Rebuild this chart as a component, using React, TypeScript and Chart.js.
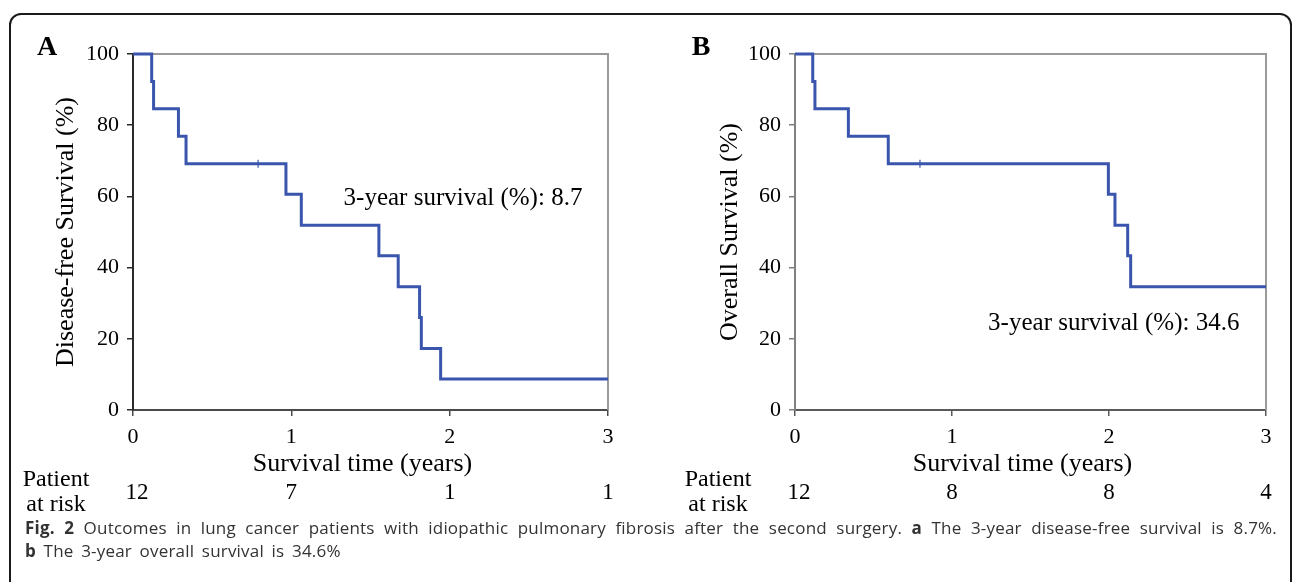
import React, { useEffect, useRef } from "react";
import { Chart, registerables } from "chart.js";

Chart.register(...registerables);

// ---------------- data ----------------
const yearTicks = [0, 1, 2, 3];
const xAxisTitle = "Survival time (years)";

// Panel A: disease-free survival (Kaplan-Meier steps: time of drop, survival after drop)
const dfsTimes = [0, 0.118, 0.13, 0.287, 0.335, 0.966, 1.063, 1.553, 1.675, 1.81, 1.821, 1.943, 3];
const dfsSurvival = [100, 92.3, 84.6, 76.9, 69.2, 60.6, 51.9, 43.3, 34.6, 26.0, 17.3, 8.7, 8.7];
const dfsCensorTimes = [0.79];
const dfsCensorSurvival = [69.2];
const dfsAtRisk = [12, 7, 1, 1];
const dfsNote = "3-year survival (%): 8.7";
const dfsNoteAt = [1.33, 59.5];

// Panel B: overall survival
const osTimes = [0, 0.113, 0.127, 0.34, 0.594, 1.996, 2.038, 2.119, 2.138, 3];
const osSurvival = [100, 92.3, 84.6, 76.9, 69.2, 60.6, 51.9, 43.3, 34.6, 34.6];
const osCensorTimes = [0.796];
const osCensorSurvival = [69.2];
const osAtRisk = [12, 8, 8, 4];
const osNote = "3-year survival (%): 34.6";
const osNoteAt = [1.23, 24.2];

const captionLine1Parts = [
  { b: true, t: "Fig. 2" },
  { b: false, t: " Outcomes in lung cancer patients with idiopathic pulmonary fibrosis after the second surgery. " },
  { b: true, t: "a" },
  { b: false, t: " The 3-year disease-free survival is 8.7%." },
];
const captionLine2Parts = [
  { b: true, t: "b" },
  { b: false, t: " The 3-year overall survival is 34.6%" },
];

// ---------------- styling ----------------
const SERIF = "'Liberation Serif', 'Times New Roman', serif";
const BLUE = "#3a55ad";

type PanelSpec = {
  letter: string;
  yTitle: string;
  times: number[];
  surv: number[];
  cTimes: number[];
  cSurv: number[];
  atRisk: number[];
  note: string;
  noteAt: number[];
  yAxisWidth: number;
  yTitlePad: number;
  padRight: number;
  letterX: number;
  leftBorder: string;
  bottomBorder: string;
};

const panelA: PanelSpec = {
  letter: "A",
  yTitle: "Disease-free Survival (%)",
  times: dfsTimes,
  surv: dfsSurvival,
  cTimes: dfsCensorTimes,
  cSurv: dfsCensorSurvival,
  atRisk: dfsAtRisk,
  note: dfsNote,
  noteAt: dfsNoteAt,
  yAxisWidth: 133,
  yTitlePad: 51,
  padRight: 32,
  letterX: 47,
  leftBorder: "#2a2a2a",
  bottomBorder: "#4a4a4a",
};

const panelB: PanelSpec = {
  letter: "B",
  yTitle: "Overall Survival (%)",
  times: osTimes,
  surv: osSurvival,
  cTimes: osCensorTimes,
  cSurv: osCensorSurvival,
  atRisk: osAtRisk,
  note: osNote,
  noteAt: osNoteAt,
  yAxisWidth: 145,
  yTitlePad: 65,
  padRight: 27,
  letterX: 51,
  leftBorder: "#808080",
  bottomBorder: "#5a5a5a",
};

function buildConfig(p: PanelSpec): any {
  const overlay = {
    id: "overlay" + p.letter,
    beforeDatasetsDraw(chart: any) {
      const { ctx, chartArea } = chart;
      ctx.save();
      ctx.strokeStyle = "#9a9a9a";
      ctx.lineWidth = 2;
      ctx.beginPath();
      ctx.moveTo(chartArea.left, chartArea.top);
      ctx.lineTo(chartArea.right, chartArea.top);
      ctx.lineTo(chartArea.right, chartArea.bottom);
      ctx.stroke();
      ctx.restore();
    },
    afterDraw(chart: any) {
      const { ctx, chartArea } = chart;
      const xs = chart.scales.x;
      const ys = chart.scales.y;
      ctx.save();
      ctx.fillStyle = "#000";
      // panel letter
      ctx.font = `bold 28px ${SERIF}`;
      ctx.textAlign = "center";
      ctx.textBaseline = "middle";
      ctx.fillText(p.letter, p.letterX, 48);
      // x-axis title
      ctx.font = `26px ${SERIF}`;
      ctx.fillText(xAxisTitle, (chartArea.left + chartArea.right) / 2 - 8, 464);
      // annotation
      ctx.font = `25px ${SERIF}`;
      ctx.textAlign = "left";
      ctx.fillText(p.note, xs.getPixelForValue(p.noteAt[0]), ys.getPixelForValue(p.noteAt[1]));
      // at-risk table
      ctx.font = `24px ${SERIF}`;
      ctx.textAlign = "center";
      const lx = chartArea.left - 77;
      ctx.fillText("Patient", lx, 480);
      ctx.fillText("at risk", lx, 505);
      ctx.font = `23px ${SERIF}`;
      p.atRisk.forEach((n, i) => {
        ctx.fillText(String(n), xs.getPixelForValue(yearTicks[i]) + (i === 0 ? 4 : 0), 493);
      });
      ctx.restore();
    },
  };

  return {
    type: "line",
    data: {
      datasets: [
        {
          data: p.times.map((t, i) => ({ x: t, y: p.surv[i] })),
          stepped: true,
          borderColor: BLUE,
          borderWidth: 3,
          pointRadius: 0,
          fill: false,
          clip: 4,
        },
        {
          data: p.cTimes.map((t, i) => ({ x: t, y: p.cSurv[i] })),
          showLine: false,
          pointStyle: "line",
          pointRotation: 90,
          pointRadius: 4,
          pointBorderWidth: 1.2,
          pointBorderColor: BLUE,
          pointBackgroundColor: BLUE,
          clip: 4,
        },
      ],
    },
    options: {
      animation: false,
      responsive: false,
      maintainAspectRatio: false,
      devicePixelRatio: 1,
      layout: { padding: { left: 0, right: p.padRight, top: 54, bottom: 40 } },
      plugins: { legend: { display: false }, tooltip: { enabled: false } },
      scales: {
        x: {
          type: "linear",
          min: 0,
          max: 3,
          afterBuildTicks: (s: any) => {
            s.ticks = yearTicks.map((v) => ({ value: v }));
          },
          ticks: { font: { family: SERIF, size: 22 }, color: "#000", padding: 8, maxRotation: 0 },
          grid: { drawOnChartArea: false, drawTicks: true, tickLength: 6, color: p.bottomBorder, lineWidth: 1.5 },
          border: { color: p.bottomBorder, width: 2 },
          title: { display: false },
          afterFit: (s: any) => {
            s.height = 70;
          },
        },
        y: {
          min: 0,
          max: 100,
          ticks: { stepSize: 20, font: { family: SERIF, size: 22 }, color: "#000", padding: 8 },
          grid: { drawOnChartArea: false, drawTicks: true, tickLength: 6, color: p.leftBorder, lineWidth: 1.5 },
          border: { color: p.leftBorder, width: 2 },
          title: {
            display: true,
            text: p.yTitle,
            font: { family: SERIF, size: 26 },
            color: "#000",
            padding: { top: p.yTitlePad, bottom: 0 },
          },
          afterFit: (s: any) => {
            s.width = p.yAxisWidth;
          },
        },
      },
    },
    plugins: [overlay],
  };
}

function Panel({ spec, left, width, height }: { spec: PanelSpec; left: number; width: number; height: number }) {
  const ref = useRef<HTMLCanvasElement>(null);
  useEffect(() => {
    const chart = new Chart(ref.current as HTMLCanvasElement, buildConfig(spec));
    return () => chart.destroy();
  }, [spec]);
  return (
    <canvas
      ref={ref}
      width={width}
      height={height}
      style={{ position: "absolute", left, top: 0, width, height }}
    />
  );
}

function CaptionLine({ parts, justify, top }: { parts: { b: boolean; t: string }[]; justify: boolean; top: number }) {
  return (
    <div
      style={{
        position: "absolute",
        left: 25,
        top,
        width: 1252,
        whiteSpace: "nowrap",
        fontFamily: "'Open Sans', 'Noto Sans', sans-serif",
        fontSize: 17,
        letterSpacing: "0.2px",
        wordSpacing: justify ? "0px" : "3px",
        lineHeight: "22px",
        color: "#333",
        textAlign: justify ? "justify" : "left",
        textAlignLast: justify ? "justify" : "left",
      } as React.CSSProperties}
    >
      {parts.map((p, i) => (
        <span key={i} style={{ fontWeight: p.b ? 700 : 400 }}>
          {p.t}
        </span>
      ))}
    </div>
  );
}

export default function App() {
  return (
    <div
      style={{
        position: "fixed",
        left: 0,
        top: 0,
        width: 1293,
        height: 582,
        overflow: "hidden",
        background: "#fff",
      }}
    >
      <div
        style={{
          position: "absolute",
          left: 9,
          top: 13,
          width: 1283,
          height: 640,
          border: "2px solid #1a1a1a",
          borderRadius: 12,
          boxSizing: "border-box",
        }}
      />
      <Panel spec={panelA} left={0} width={640} height={520} />
      <Panel spec={panelB} left={650} width={643} height={520} />
      <CaptionLine parts={captionLine1Parts} justify={true} top={517} />
      <CaptionLine parts={captionLine2Parts} justify={false} top={540} />
    </div>
  );
}
